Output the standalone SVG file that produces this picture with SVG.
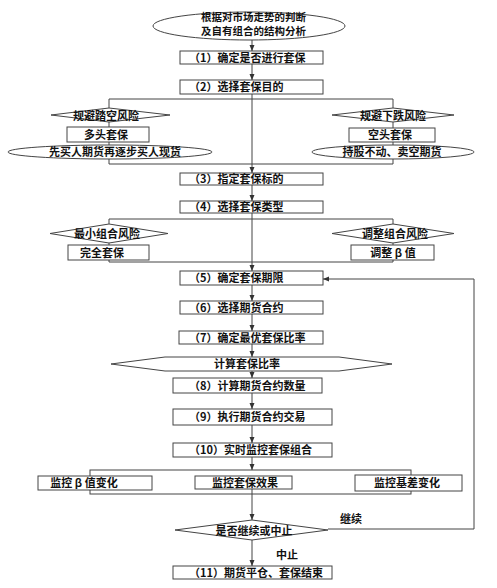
<svg xmlns="http://www.w3.org/2000/svg" width="497" height="588" viewBox="0 0 497 588">
<style>
.s{fill:#fff;stroke:#444;stroke-width:1}
.c{fill:none;stroke:#444;stroke-width:1}
text{font-family:"Noto Sans CJK SC","Liberation Sans",sans-serif;font-size:11px;font-weight:bold;fill:#111}
.m{text-anchor:middle}
.t{font-size:10.5px}
</style>
<defs>
<marker id="a" markerWidth="6" markerHeight="6" refX="6" refY="3" orient="auto" markerUnits="userSpaceOnUse"><path d="M0,0.5 L6,3 L0,5.5 z" fill="#333"/></marker>
</defs>
<rect width="497" height="588" fill="#fff"/>
<g id="connectors">
<line class="c" x1="252" y1="40" x2="252" y2="51" marker-end="url(#a)"/>
<line class="c" x1="252" y1="64" x2="252" y2="80" marker-end="url(#a)"/>
<polyline class="c" points="109,108 109,99 393,99 393,108"/>
<polyline class="c" points="109,108 109,164 393,164 393,108"/>
<line class="c" x1="252" y1="94" x2="252" y2="173" marker-end="url(#a)"/>
<line class="c" x1="252" y1="185" x2="252" y2="201" marker-end="url(#a)"/>
<polyline class="c" points="109,224 109,219 393,219 393,224"/>
<polyline class="c" points="109,224 109,262 393,262 393,224"/>
<line class="c" x1="252" y1="213" x2="252" y2="271" marker-end="url(#a)"/>
<line class="c" x1="252" y1="285" x2="252" y2="301" marker-end="url(#a)"/>
<line class="c" x1="252" y1="314" x2="252" y2="331" marker-end="url(#a)"/>
<line class="c" x1="252" y1="344" x2="252" y2="357" marker-end="url(#a)"/>
<line class="c" x1="252" y1="371" x2="252" y2="378" marker-end="url(#a)"/>
<line class="c" x1="252" y1="393" x2="252" y2="409" marker-end="url(#a)"/>
<line class="c" x1="252" y1="425" x2="252" y2="443" marker-end="url(#a)"/>
<line class="c" x1="252" y1="457" x2="252" y2="470" marker-end="url(#a)"/>
<rect class="c" x="90" y="470" width="321" height="24"/>
<line class="c" x1="252" y1="489" x2="252" y2="520" marker-end="url(#a)"/>
<line class="c" x1="252" y1="540" x2="252" y2="566" marker-end="url(#a)"/>
<polyline class="c" points="328,529 474,529 474,279 323,279" marker-end="url(#a)"/>
</g>
<g id="start">
<ellipse class="s" cx="249" cy="26" rx="96" ry="14"/>
<text class="t" x="201" y="21">根据对市场走势的判断</text>
<text class="t" x="201" y="35">及自有组合的结构分析</text>
</g>
<g id="n1"><rect class="s" x="180" y="51" width="143" height="13"/><text x="189" y="61.5">（1）确定是否进行套保</text></g>
<g id="n2"><rect class="s" x="180" y="80" width="143" height="14"/><text x="189" y="91">（2）选择套保目的</text></g>
<g id="d-up"><polygon class="s" points="51,115 109,108 170,115 109,122"/><text class="m" x="106" y="119.5">规避踏空风险</text></g>
<g id="long"><rect class="s" x="67" y="127" width="82" height="15"/><text class="m" x="106" y="139">多头套保</text></g>
<g id="long-e"><ellipse class="s" cx="110" cy="152" rx="102" ry="7"/><text class="m" x="115" y="156">先买人期货再逐步买人现货</text></g>
<g id="d-down"><polygon class="s" points="332,115 393,108 454,115 393,122"/><text class="m" x="393" y="119.5">规避下跌风险</text></g>
<g id="short"><rect class="s" x="349" y="128" width="86" height="14"/><text class="m" x="390" y="139">空头套保</text></g>
<g id="short-e"><ellipse class="s" cx="393" cy="152" rx="81" ry="7"/><text class="m" x="392" y="156">持股不动、卖空期货</text></g>
<g id="n3"><rect class="s" x="180" y="173" width="143" height="12"/><text x="189" y="183">（3）指定套保标的</text></g>
<g id="n4"><rect class="s" x="180" y="201" width="143" height="12"/><text x="189" y="211">（4）选择套保类型</text></g>
<g id="d-min"><polygon class="s" points="50,233.5 109,224 168,233.5 109,243"/><text class="m" x="107" y="238">最小组合风险</text></g>
<g id="full"><rect class="s" x="68" y="245" width="81" height="15"/><text class="m" x="102" y="257">完全套保</text></g>
<g id="d-adj"><polygon class="s" points="332,233.5 393,224 454,233.5 393,243"/><text class="m" x="395" y="238">调整组合风险</text></g>
<g id="beta"><rect class="s" x="351" y="245" width="83" height="15"/><text class="m" x="393" y="257">调整 β 值</text></g>
<g id="n5"><rect class="s" x="180" y="271" width="143" height="14"/><text x="189" y="282">（5）确定套保期限</text></g>
<g id="n6"><rect class="s" x="180" y="301" width="143" height="13"/><text x="189" y="311.5">（6）选择期货合约</text></g>
<g id="n7"><rect class="s" x="179" y="331" width="144" height="13"/><text x="189" y="341.5">（7）确定最优套保比率</text></g>
<g id="calc"><polygon class="s" points="111,364 165,357 339,357 392,364 339,371 165,371"/><text class="m" x="247" y="368">计算套保比率</text></g>
<g id="n8"><rect class="s" x="173" y="378" width="149" height="15"/><text x="189" y="389.5">（8）计算期货合约数量</text></g>
<g id="n9"><rect class="s" x="173" y="409" width="159" height="16"/><text x="189" y="421">（9）执行期货合约交易</text></g>
<g id="n10"><rect class="s" x="173" y="443" width="159" height="14"/><text x="189" y="454">（10）实时监控套保组合</text></g>
<g id="mon-beta"><rect class="s" x="38" y="476" width="114" height="14"/><text class="m" x="84" y="487">监控 β 值变化</text></g>
<g id="mon-eff"><rect class="s" x="195" y="476" width="97" height="13"/><text class="m" x="245" y="487">监控套保效果</text></g>
<g id="mon-basis"><rect class="s" x="355" y="475" width="107" height="16"/><text class="m" x="407" y="487">监控基差变化</text></g>
<g id="decide"><polygon class="s" points="175,530 252,520 328,530 252,540"/><text class="m" x="254" y="535">是否继续或中止</text></g>
<g id="labels"><text class="m" x="351" y="523">继续</text><text class="m" x="287" y="559">中止</text></g>
<g id="n11"><rect class="s" x="173" y="566" width="159" height="13"/><text x="189" y="576.5">（11）期货平仓、套保结束</text></g>
</svg>
